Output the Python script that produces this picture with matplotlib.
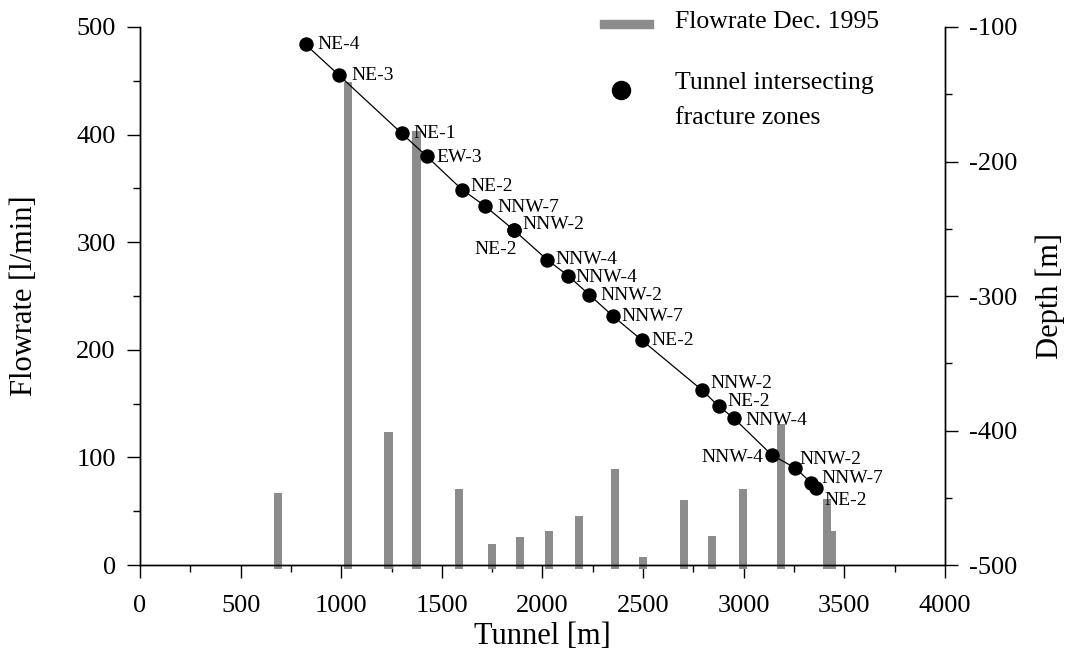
import matplotlib
matplotlib.use("Agg")
import matplotlib.pyplot as plt
from matplotlib.ticker import MultipleLocator
from matplotlib.patches import Rectangle
from matplotlib.lines import Line2D

plt.rcParams['font.family'] = ['Liberation Serif', 'DejaVu Serif']
plt.rcParams['axes.unicode_minus'] = False

# Flowrate bars (Dec. 1995)
bar_x = [684, 1033, 1235, 1374, 1586, 1747, 1887, 2033, 2183, 2362, 2500,
         2702, 2844, 2998, 3183, 3415, 3438]
bar_flow = [67, 449, 124, 403, 71, 20, 26, 32, 46, 89, 7,
            60, 27, 71, 131, 61, 32]

# Tunnel intersecting fracture zones: tunnel position, depth, name
zone_x = [823, 990, 1300, 1424, 1601, 1714, 1858, 1858, 2023, 2128, 2232,
          2351, 2495, 2793, 2876, 2952, 3138, 3257, 3336, 3358]
zone_depth = [-113, -136, -179, -196, -221, -233, -251, -251, -273, -285, -299,
              -315, -333, -370, -382, -391, -418, -428, -439, -443]
zone_name = ["NE-4", "NE-3", "NE-1", "EW-3", "NE-2", "NNW-7", "NNW-2", "NE-2",
             "NNW-4", "NNW-4", "NNW-2", "NNW-7", "NE-2", "NNW-2", "NE-2",
             "NNW-4", "NNW-4", "NNW-2", "NNW-7", "NE-2"]

# label placement (pixel offsets, alignment)
label_off = [(12, 0), (12, 0), (12, 0), (10, -1), (8, 3), (12, -2), (8, 6),
             (3, -19), (8, 0), (7, -2), (11, -1), (8, 0), (9, 0), (8, 7),
             (9, 5), (11, -2), (-8, -3), (4, 9), (10, 4), (9, -12)]
label_ha = ["left"] * 7 + ["right"] + ["left"] * 8 + ["right"] + ["left"] * 3

fig = plt.figure(figsize=(10.66, 6.52), dpi=100)
ax = fig.add_axes([0.1313, 0.1334, 0.7552, 0.8252])
ax2 = ax.twinx()

gray = "#8c8c8c"
base = -3.3  # bars poke a little below the axis line
ax.bar(bar_x, [f - base for f in bar_flow], width=40, bottom=base,
       color=gray, clip_on=False, zorder=2)
ax.set_xlim(0, 4000)
ax.set_ylim(0, 500)

ax2.plot(zone_x, zone_depth, color="black", lw=0.9, zorder=2)
ax2.plot(zone_x, zone_depth, "o", color="black", markersize=9.4, zorder=3)
ax2.set_ylim(-500, -100)

for x, d, name, off, ha in zip(zone_x, zone_depth, zone_name, label_off, label_ha):
    ax2.annotate(name, (x, d), xytext=off, textcoords="offset pixels",
                 ha=ha, va="center", fontsize=14)

for a in (ax, ax2):
    a.spines["top"].set_visible(False)
    for s in a.spines.values():
        s.set_linewidth(1.0)
    a.tick_params(which="major", direction="out", length=9.4, width=1.0, labelsize=19, pad=8)
    a.tick_params(which="minor", direction="out", length=5, width=1.0)
ax.tick_params(axis="x", which="major", pad=12)

ax.xaxis.set_major_locator(MultipleLocator(500))
ax.xaxis.set_minor_locator(MultipleLocator(250))
ax.yaxis.set_major_locator(MultipleLocator(100))
ax.yaxis.set_minor_locator(MultipleLocator(50))
ax2.yaxis.set_major_locator(MultipleLocator(100))
ax2.yaxis.set_minor_locator(MultipleLocator(50))

ax.set_xlabel("Tunnel [m]", fontsize=22, labelpad=4)
ax.set_ylabel("Flowrate [l/min]", fontsize=22, labelpad=27)
ax2.set_ylabel("Depth [m]", fontsize=22, labelpad=13)

# legend drawn by hand
ax2.add_patch(Rectangle((0.571, 0.9990), 0.066, 0.0149, transform=ax2.transAxes,
                        color=gray, clip_on=False))
ax2.add_line(Line2D([0.598], [0.883], marker="o", color="black", markersize=13,
                    transform=ax2.transAxes, clip_on=False))
ax2.text(0.6646, 1.009, "Flowrate Dec. 1995", transform=ax2.transAxes,
         fontsize=18.5, va="center", ha="left")
ax2.text(0.6646, 0.896, "Tunnel intersecting", transform=ax2.transAxes,
         fontsize=18.5, va="center", ha="left")
ax2.text(0.6646, 0.831, "fracture zones", transform=ax2.transAxes,
         fontsize=18.5, va="center", ha="left")

fig.savefig("out.png", dpi=100)
